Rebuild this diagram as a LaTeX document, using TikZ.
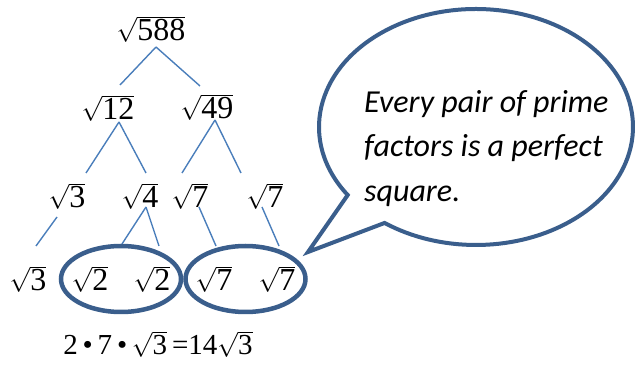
\documentclass[tikz,border=0pt]{standalone}
\usepackage{fontspec}
\setmainfont{Liberation Serif}
\newfontfamily\calib{Carlito}
\usetikzlibrary{calc}
\definecolor{branchblue}{RGB}{74,126,187}
\definecolor{outlineblue}{RGB}{58,94,140}
\newcommand\rt[1]{$\sqrt{\mbox{#1}}$}
\begin{document}
\begin{tikzpicture}[x=1pt,y=1pt,
  num/.style={inner sep=0pt, font=\fontsize{32}{38}\selectfont},
  branch/.style={draw=branchblue, line width=1.4pt},
  pairring/.style={draw=outlineblue, line width=4.5pt},
  bubble/.style={draw=outlineblue, line width=4pt, fill=white, line join=miter}]
\useasboundingbox (0,0) rectangle (637,364);
% tree nodes
\node[num] (n588) at (151,335) {\rt{588}};
\node[num] (n12) at (108,256) {\rt{12}};
\node[num] (n49) at (207,257) {\rt{49}};
\node[num] (a3) at (67,168) {\rt{3}};
\node[num] (a4) at (140,168) {\rt{4}};
\node[num] (a7) at (190,168) {\rt{7}};
\node[num] (b7) at (265,168) {\rt{7}};
\node[num] (c3) at (28,85) {\rt{3}};
\node[num] (c2a) at (90,85) {\rt{2}};
\node[num] (c2b) at (152,85) {\rt{2}};
\node[num] (c7a) at (214,85) {\rt{7}};
\node[num] (c7b) at (277,85) {\rt{7}};
\node[num, font=\fontsize{29}{34}\selectfont] (res) at (158,20) {2\,•\,7\,•\,\rt{3}\,=14\rt{3}};
% branches
\draw[branch] ($(n588)+(5,-18)$) -- ($(n12)+(12,23)$);
\draw[branch] ($(n588)+(5,-18)$) -- ($(n49)+(-7,21)$);
\draw[branch] ($(n12)+(11,-14)$) -- ($(a3)+(19,23)$);
\draw[branch] ($(n12)+(11,-14)$) -- ($(a4)+(6,23)$);
\draw[branch] ($(n49)+(8,-13)$) -- ($(a7)+(-8,23)$);
\draw[branch] ($(n49)+(8,-13)$) -- ($(b7)+(-24,23)$);
\draw[branch] ($(a3)+(-10,-21)$) -- ($(c3)+(8,33)$);
\draw[branch] ($(a4)+(6,-11)$) -- ($(c2a)+(32,35)$);
\draw[branch] ($(a4)+(6,-11)$) -- ($(c2b)+(7,33)$);
\draw[branch] ($(a7)+(9,-11)$) -- ($(c7a)+(2,33)$);
\draw[branch] ($(b7)+(-3,-11)$) -- ($(c7b)+(2,33)$);
% pair rings
\draw[pairring] ($(c2a)!0.5!(c2b)$) ellipse [x radius=60, y radius=33];
\draw[pairring] ($(c7a)!0.5!(c7b)$) ellipse [x radius=60, y radius=33];
% callout
\coordinate (bc) at (476,237);
\coordinate (tip) at (308,112);
\draw[bubble] (tip) -- ($(bc)+(215.2:157 and 118)$)
  arc[start angle=215.2, end angle=-125.6, x radius=157, y radius=118] -- cycle;
\node[anchor=north west, align=left, inner sep=0pt,
  font=\calib\itshape\fontsize{32}{44.5}\selectfont] (note) at (364,274)
  {Every pair of prime\\factors is a perfect\\square.};
\end{tikzpicture}
\end{document}
